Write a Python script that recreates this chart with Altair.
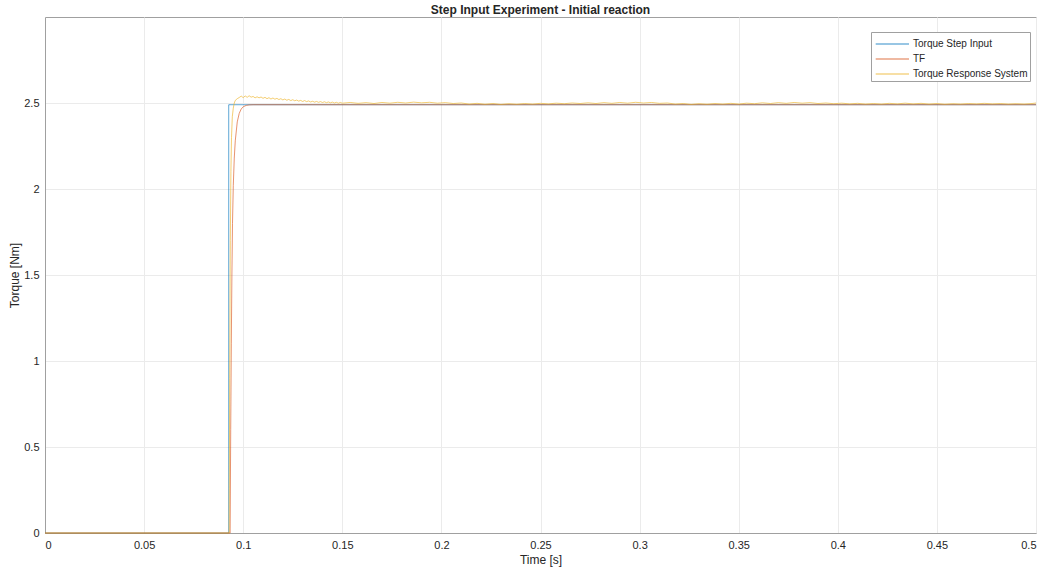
import altair as alt
import pandas as pd

# Step input
step_t = [0.0, 0.0927, 0.0927, 0.5]
step_v = [0.0, 0.0, 2.49, 2.49]

# Transfer function response
tf_t = [0.0, 0.0934, 0.0937, 0.0940, 0.0943, 0.0946, 0.0950, 0.0955, 0.0960, 0.0970,
        0.0980, 0.0990, 0.1000, 0.1015, 0.1030, 0.1050, 0.5]
tf_v = [0.0, 0.0, 0.60, 1.10, 1.50, 1.80, 2.02, 2.18, 2.28, 2.39,
        2.44, 2.465, 2.478, 2.486, 2.489, 2.49, 2.49]

# Measured system response
resp_t = [0.0, 0.0929, 0.0932, 0.0935, 0.0938, 0.0941, 0.0945, 0.0950, 0.0955, 0.0960, 0.0970,
          0.098, 0.099, 0.100, 0.101, 0.102, 0.103, 0.104, 0.105, 0.106, 0.107, 0.108, 0.109,
          0.110, 0.111, 0.112, 0.113, 0.114, 0.115, 0.116, 0.117, 0.118, 0.119, 0.120, 0.121,
          0.122, 0.123, 0.124, 0.125, 0.126, 0.127, 0.128, 0.129, 0.130, 0.131, 0.132, 0.133,
          0.134, 0.135, 0.136, 0.137, 0.138, 0.139, 0.140, 0.141, 0.142, 0.143, 0.144, 0.145,
          0.146, 0.147, 0.148, 0.149, 0.150,
          0.154, 0.158, 0.162, 0.166, 0.170, 0.174, 0.178, 0.182, 0.186, 0.190, 0.194, 0.198,
          0.202, 0.206, 0.210, 0.214, 0.218, 0.222, 0.226, 0.230, 0.234, 0.238, 0.242, 0.246,
          0.250, 0.254, 0.258, 0.262, 0.266, 0.270, 0.274, 0.278, 0.282, 0.286, 0.290, 0.294,
          0.298, 0.302, 0.306, 0.310, 0.314, 0.318, 0.322, 0.326, 0.330, 0.334, 0.338, 0.342,
          0.346, 0.350, 0.354, 0.358, 0.362, 0.366, 0.370, 0.374, 0.378, 0.382, 0.386, 0.390,
          0.394, 0.398, 0.402, 0.406, 0.410, 0.414, 0.418, 0.422, 0.426, 0.430, 0.434, 0.438,
          0.442, 0.446, 0.450, 0.454, 0.458, 0.462, 0.466, 0.470, 0.474, 0.478, 0.482, 0.486,
          0.490, 0.494, 0.498, 0.500]
resp_v = [0.0, 0.0, 0.90, 1.70, 2.10, 2.30, 2.42, 2.47, 2.50, 2.515, 2.525,
          2.532, 2.540, 2.531, 2.541, 2.533, 2.542, 2.534, 2.538, 2.530, 2.536, 2.530, 2.535,
          2.527, 2.533, 2.525, 2.531, 2.523, 2.529, 2.522, 2.527, 2.520, 2.525, 2.518, 2.523,
          2.516, 2.521, 2.514, 2.519, 2.513, 2.517, 2.511, 2.515, 2.509, 2.514, 2.508, 2.512,
          2.506, 2.510, 2.505, 2.509, 2.504, 2.508, 2.503, 2.507, 2.502, 2.506, 2.501, 2.505,
          2.500, 2.504, 2.499, 2.503, 2.499,
          2.503, 2.498, 2.502, 2.497, 2.503, 2.499, 2.504, 2.500, 2.505, 2.501, 2.504, 2.499,
          2.502, 2.497, 2.500, 2.494, 2.498, 2.493, 2.497, 2.492, 2.496, 2.493, 2.497, 2.494,
          2.498, 2.495, 2.499, 2.496, 2.500, 2.497, 2.501, 2.497, 2.502, 2.498, 2.503, 2.499,
          2.504, 2.500, 2.503, 2.498, 2.500, 2.494, 2.497, 2.492, 2.496, 2.493, 2.497, 2.494,
          2.498, 2.494, 2.499, 2.496, 2.501, 2.497, 2.502, 2.498, 2.503, 2.499, 2.502, 2.497,
          2.500, 2.496, 2.499, 2.495, 2.498, 2.494, 2.497, 2.494, 2.498, 2.495, 2.499, 2.495,
          2.498, 2.494, 2.497, 2.493, 2.496, 2.494, 2.497, 2.495, 2.498, 2.495, 2.497, 2.494,
          2.496, 2.494, 2.497, 2.50]

series_names = ["Torque Step Input", "TF", "Torque Response System"]
series_colors = ["#0072BD", "#D95319", "#EDB120"]
y_ticks = [0, 0.5, 1, 1.5, 2, 2.5]
x_ticks = [0, 0.05, 0.1, 0.15, 0.2, 0.25, 0.3, 0.35, 0.4, 0.45, 0.5]

rows = []
for name, ts, vs in [(series_names[0], step_t, step_v),
                     (series_names[1], tf_t, tf_v),
                     (series_names[2], resp_t, resp_v)]:
    for i, (t, v) in enumerate(zip(ts, vs)):
        rows.append({"series": name, "t": t, "v": v, "order": i})
df = pd.DataFrame(rows)

font = "Liberation Sans"

chart = alt.Chart(df).mark_line(strokeWidth=0.9, opacity=0.7).encode(
    x=alt.X("t:Q", scale=alt.Scale(domain=[0, 0.5], nice=False),
            axis=alt.Axis(title="Time [s]", values=x_ticks, format="~g",
                          grid=True, gridColor="#ebebeb", ticks=False,
                          domainColor="#a0a0a0", labelColor="#262626",
                          titleColor="#262626", labelFontSize=11, titleFontSize=12,
                          titleFontWeight="normal", labelPadding=6, titlePadding=4,
                          labelFont=font, titleFont=font)),
    y=alt.Y("v:Q", scale=alt.Scale(domain=[0, 3], nice=False),
            axis=alt.Axis(title="Torque [Nm]", values=y_ticks, format="~g",
                          grid=True, gridColor="#ebebeb", ticks=False,
                          domainColor="#a0a0a0", labelColor="#262626",
                          titleColor="#262626", labelFontSize=11, titleFontSize=12,
                          titleFontWeight="normal", labelPadding=6, titlePadding=2,
                          labelFont=font, titleFont=font)),
    color=alt.Color("series:N",
                    scale=alt.Scale(domain=series_names, range=series_colors),
                    sort=series_names,
                    legend=alt.Legend(title=None, orient="none", legendX=826, legendY=15,
                                      symbolType="M-2.7,0H1", symbolStrokeWidth=1.2,
                                      symbolOpacity=0.8, symbolOffset=17,
                                      symbolSize=324, labelFontSize=10, labelFont=font,
                                      labelColor="#262626", labelOffset=3,
                                      fillColor="white", strokeColor="#a0a0a0",
                                      padding=2, rowPadding=-6)),
    order="order:Q",
).properties(
    width=991, height=516,
    title=alt.Title("Step Input Experiment - Initial reaction", fontSize=12,
                    fontWeight="bold", font=font, color="#262626", offset=0),
    padding={"left": 45, "top": 17, "right": 9, "bottom": 35},
    autosize=alt.AutoSizeParams(type="none"),
).configure_view(stroke="#a0a0a0", strokeWidth=1)

chart.save("out.html", embed_options={"renderer": "svg", "actions": False})
